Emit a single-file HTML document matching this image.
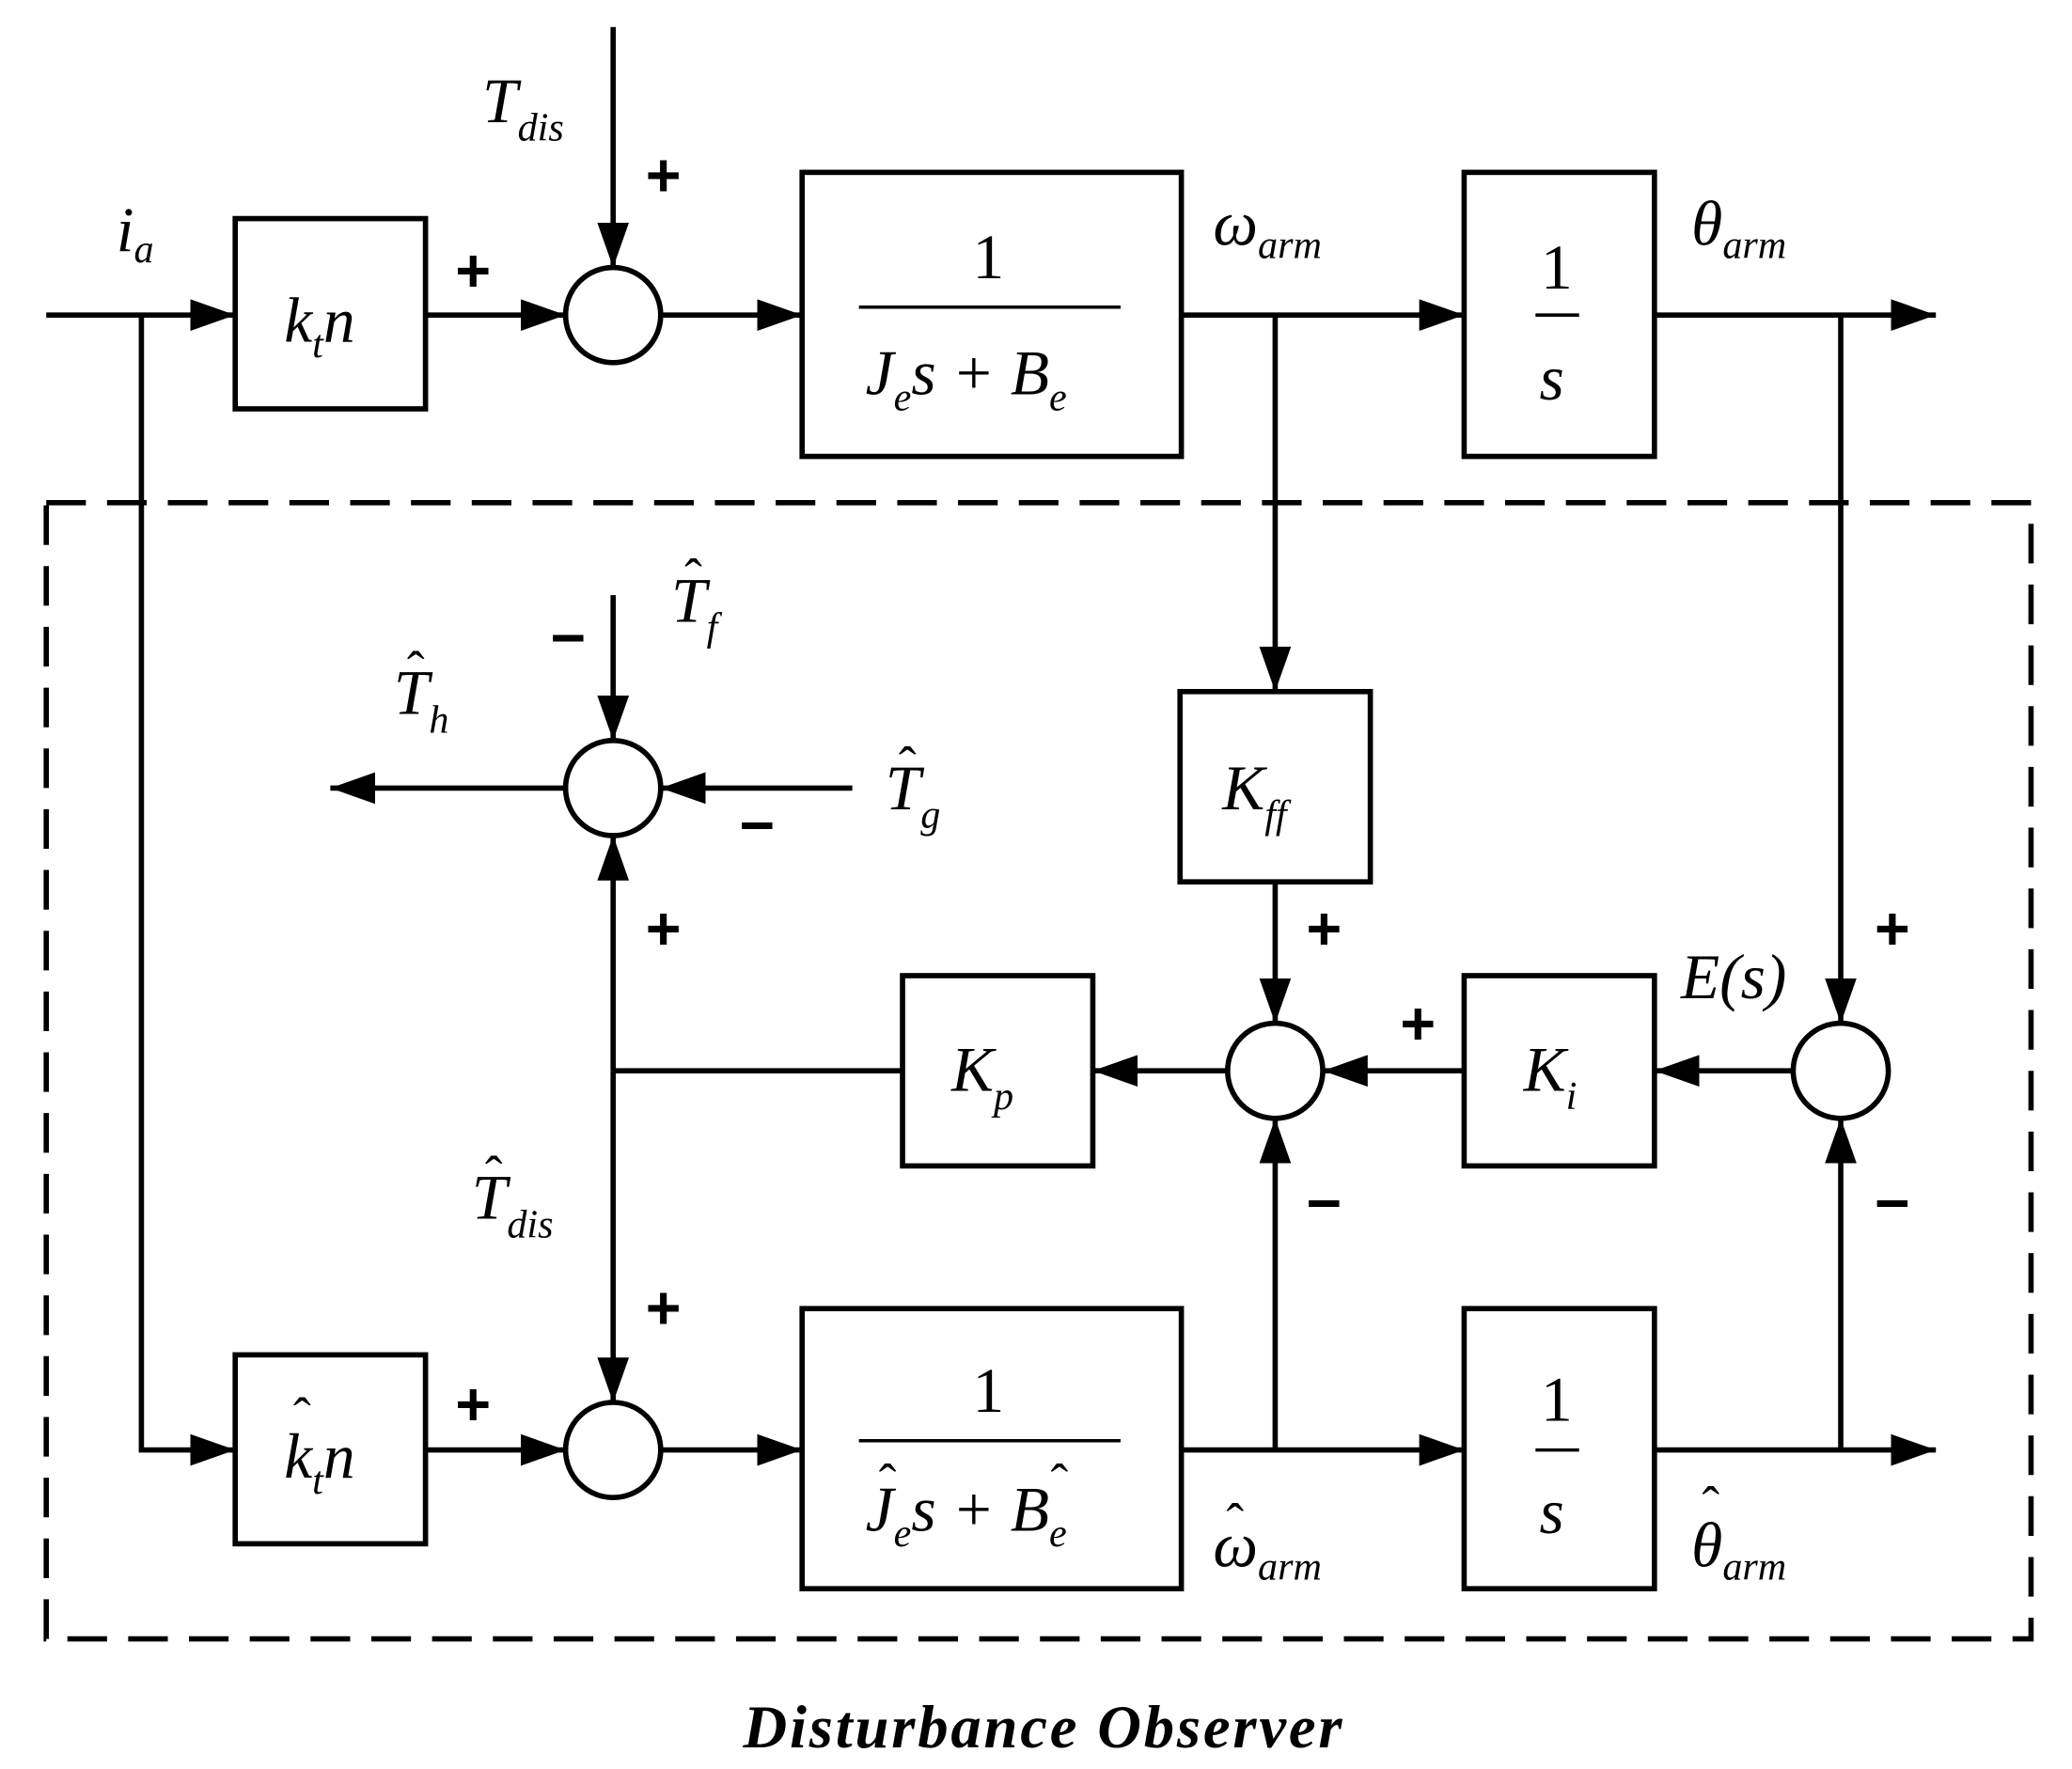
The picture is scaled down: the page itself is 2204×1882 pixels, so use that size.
<!DOCTYPE html>
<html><head><meta charset="utf-8"><style>html,body{margin:0;padding:0;background:#fff}svg{display:block}</style></head>
<body>
<svg width="2204" height="1882" viewBox="0 0 1568 1338" xmlns="http://www.w3.org/2000/svg" font-family="Liberation Serif, serif">
<defs>
<marker id="a" markerWidth="34" markerHeight="24" refX="34" refY="12" orient="auto" markerUnits="userSpaceOnUse"><path d="M0,0 L34,12 L0,24 Z" fill="#000"/></marker>
</defs>
<g stroke="#000" stroke-width="4" fill="none">
<line x1="35" y1="238" x2="178" y2="238" marker-end="url(#a)"/>
<rect x="178" y="165" width="144" height="144"/>
<line x1="322" y1="238" x2="428" y2="238" marker-end="url(#a)"/>
<circle cx="464" cy="238" r="36"/>
<line x1="464" y1="20" x2="464" y2="202" marker-end="url(#a)"/>
<line x1="500" y1="238" x2="607" y2="238" marker-end="url(#a)"/>
<rect x="607" y="130" width="287" height="215"/>
<line x1="650" y1="232" x2="848" y2="232" stroke-width="2.5"/>
<line x1="894" y1="238" x2="1108" y2="238" marker-end="url(#a)"/>
<rect x="1108" y="130" width="144" height="215"/>
<line x1="1162" y1="238" x2="1195" y2="238" stroke-width="2.5"/>
<line x1="1252" y1="238" x2="1465" y2="238" marker-end="url(#a)"/>
<line x1="965" y1="238" x2="965" y2="523" marker-end="url(#a)"/>
<line x1="1393" y1="238" x2="1393" y2="774" marker-end="url(#a)"/>
<rect x="35" y="380" width="1502" height="860" stroke-dasharray="30,16"/>
<polyline points="107,238 107,1097 178,1097" marker-end="url(#a)"/>
<rect x="893" y="523" width="144" height="144"/>
<line x1="965" y1="667" x2="965" y2="774" marker-end="url(#a)"/>
<circle cx="965" cy="810" r="36"/>
<circle cx="1393" cy="810" r="36"/>
<line x1="1357" y1="810" x2="1252" y2="810" marker-end="url(#a)"/>
<rect x="1108" y="738" width="144" height="144"/>
<line x1="1108" y1="810" x2="1001" y2="810" marker-end="url(#a)"/>
<line x1="929" y1="810" x2="827" y2="810" marker-end="url(#a)"/>
<rect x="683" y="738" width="144" height="144"/>
<line x1="683" y1="810" x2="464" y2="810"/>
<line x1="464" y1="810" x2="464" y2="632" marker-end="url(#a)"/>
<line x1="464" y1="810" x2="464" y2="1061" marker-end="url(#a)"/>
<circle cx="464" cy="596" r="36"/>
<line x1="464" y1="450" x2="464" y2="560" marker-end="url(#a)"/>
<line x1="645" y1="596" x2="500" y2="596" marker-end="url(#a)"/>
<line x1="428" y1="596" x2="250" y2="596" marker-end="url(#a)"/>
<rect x="178" y="1025" width="144" height="143"/>
<line x1="322" y1="1097" x2="428" y2="1097" marker-end="url(#a)"/>
<circle cx="464" cy="1097" r="36"/>
<line x1="500" y1="1097" x2="607" y2="1097" marker-end="url(#a)"/>
<rect x="607" y="990" width="287" height="212"/>
<line x1="650" y1="1090" x2="848" y2="1090" stroke-width="2.5"/>
<line x1="894" y1="1097" x2="1108" y2="1097" marker-end="url(#a)"/>
<rect x="1108" y="990" width="144" height="212"/>
<line x1="1162" y1="1097" x2="1195" y2="1097" stroke-width="2.5"/>
<line x1="1252" y1="1097" x2="1465" y2="1097" marker-end="url(#a)"/>
<line x1="965" y1="1097" x2="965" y2="846" marker-end="url(#a)"/>
<line x1="1393" y1="1097" x2="1393" y2="846" marker-end="url(#a)"/>
</g>
<g font-size="48" font-style="italic" fill="#000">
<text x="88" y="190">i<tspan font-size="30" dy="8">a</tspan></text>
<text x="215" y="258">k<tspan font-size="30" dy="12">t</tspan><tspan dy="-12">n</tspan></text>
<text x="365" y="92">T<tspan font-size="30" dy="14">dis</tspan></text>
<text x="918" y="185">ω<tspan font-size="30" dy="10">arm</tspan></text>
<text x="1280" y="185">θ<tspan font-size="30" dy="10">arm</tspan></text>
<text x="655" y="298">J<tspan font-size="30" dy="12">e</tspan><tspan dy="-12">s + B</tspan><tspan font-size="30" dy="12">e</tspan></text>
<text x="1165" y="302">s</text>
<text x="925" y="612">K<tspan font-size="30" dy="14">ff</tspan></text>
<text x="720" y="825">K<tspan font-size="30" dy="14">p</tspan></text>
<text x="1153" y="825">K<tspan font-size="30" dy="14">i</tspan></text>
<text x="1272" y="755">E(s)</text>
<text x="508" y="470">T<tspan font-size="30" dy="14">f</tspan></text>
<text x="518" y="450" font-style="normal" font-size="40">ˆ</text>
<text x="298" y="540">T<tspan font-size="30" dy="14">h</tspan></text>
<text x="308" y="520" font-style="normal" font-size="40">ˆ</text>
<text x="670" y="612">T<tspan font-size="30" dy="14">g</tspan></text>
<text x="680" y="592" font-style="normal" font-size="40">ˆ</text>
<text x="357" y="922">T<tspan font-size="30" dy="14">dis</tspan></text>
<text x="367" y="902" font-style="normal" font-size="40">ˆ</text>
<text x="215" y="1118">k<tspan font-size="30" dy="12">t</tspan><tspan dy="-12">n</tspan></text>
<text x="222" y="1085" font-style="normal" font-size="40">ˆ</text>
<text x="655" y="1158">J<tspan font-size="30" dy="12">e</tspan><tspan dy="-12">s + B</tspan><tspan font-size="30" dy="12">e</tspan></text>
<text x="665" y="1135" font-style="normal" font-size="40">ˆ</text>
<text x="795" y="1135" font-style="normal" font-size="40">ˆ</text>
<text x="1165" y="1160">s</text>
<text x="918" y="1185">ω<tspan font-size="30" dy="10">arm</tspan></text>
<text x="928" y="1165" font-style="normal" font-size="40">ˆ</text>
<text x="1280" y="1185">θ<tspan font-size="30" dy="10">arm</tspan></text>
<text x="1288" y="1152" font-style="normal" font-size="40">ˆ</text>
</g>
<g font-size="48" fill="#000" text-anchor="middle">
<text x="748" y="210">1</text>
<text x="1178" y="218">1</text>
<text x="748" y="1068">1</text>
<text x="1178" y="1075">1</text>
</g>
<g font-size="46" font-weight="bold" fill="#000" text-anchor="middle" font-family="Liberation Sans, sans-serif">
<text x="358" y="220">+</text>
<text x="502" y="148">+</text>
<text x="1002" y="718">+</text>
<text x="1073" y="790">+</text>
<text x="1432" y="718">+</text>
<text x="502" y="718">+</text>
<text x="502" y="1005">+</text>
<text x="358" y="1078">+</text>
<text x="430" y="498">−</text>
<text x="573" y="640">−</text>
<text x="1002" y="926">−</text>
<text x="1432" y="926">−</text>
</g>
<text x="790" y="1322" font-size="46" font-weight="bold" font-style="italic" text-anchor="middle" letter-spacing="2" fill="#000">Disturbance Observer</text>
</svg>
</body></html>
